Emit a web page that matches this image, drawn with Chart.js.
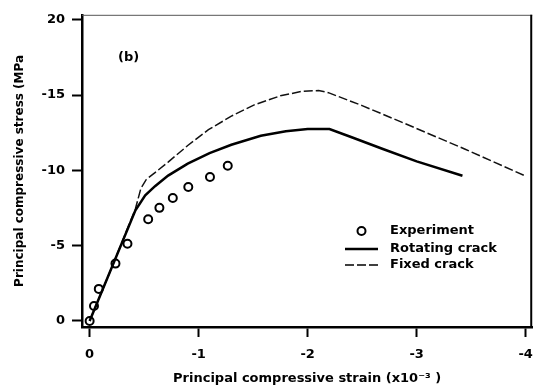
<!DOCTYPE html>
<html>
<head>
<meta charset="utf-8">
<script src="https://cdn.jsdelivr.net/npm/chart.js@4"></script>
<style>
  html, body { margin: 0; padding: 0; background: #fff; }
  #wrap { width: 543px; height: 388px; position: relative; }
</style>
</head>
<body>
<div id="wrap"><canvas id="stressChart"></canvas></div>
<script>
// data (strain x10^-3, stress MPa)
const expStrain = [0, -0.04, -0.084, -0.237, -0.347, -0.537, -0.64, -0.763, -0.905, -1.104, -1.267];
const expStress = [0, -1.0, -2.13, -3.81, -5.13, -6.76, -7.51, -8.16, -8.9, -9.56, -10.31];

const rotStrain = [0, -0.2, -0.42, -0.51, -0.6, -0.72, -0.9, -1.1, -1.3, -1.57, -1.8, -2.0, -2.2, -2.41, -2.69, -3.0, -3.42];
const rotStress = [0, -3.5, -7.35, -8.34, -8.95, -9.65, -10.45, -11.15, -11.7, -12.3, -12.6, -12.74, -12.74, -12.18, -11.42, -10.6, -9.64];

const fixStrain = [0, -0.2, -0.42, -0.47, -0.52, -0.6, -0.72, -0.9, -1.09, -1.3, -1.51, -1.75, -1.95, -2.1, -2.19, -2.5, -2.84, -3.44, -4.0];
const fixStress = [0, -3.5, -7.45, -8.8, -9.4, -9.85, -10.55, -11.65, -12.7, -13.6, -14.35, -14.95, -15.25, -15.3, -15.16, -14.3, -13.27, -11.42, -9.62];

const xTicks = [0, -1, -2, -3, -4];
const xTickLabels = ['0', '-1', '-2', '-3', '-4'];
const yTicks = [0, -5, -10, -15, -20];
const yTickLabels = ['0', '-5', '-10', '-15', '20'];

const seriesNames = ['Experiment', 'Rotating crack', 'Fixed crack'];

const toPts = (xs, ys) => xs.map((x, i) => ({ x: x, y: ys[i] }));

const FONT = '"DejaVu Sans", sans-serif';

// box round the plot: thin top line, heavy right line
const framePlugin = {
    id: 'frame',
    beforeDatasetsDraw(chart) {
        const { ctx, chartArea: a } = chart;
        ctx.save();
        ctx.strokeStyle = '#555';
        ctx.lineWidth = 1;
        ctx.beginPath();
        ctx.moveTo(a.left, a.top + 0.5);
        ctx.lineTo(a.right, a.top + 0.5);
        ctx.stroke();
        ctx.strokeStyle = '#000';
        ctx.lineWidth = 2;
        ctx.beginPath();
        ctx.moveTo(a.right - 1, a.top);
        ctx.lineTo(a.right - 1, a.bottom);
        ctx.stroke();
        ctx.restore();
    }
};

// legend inside the plot + "(b)" panel label
const insideLegend = {
    id: 'insideLegend',
    afterDraw(chart) {
        const ctx = chart.ctx;
        const x0 = 345, x1 = 378, tx = 390;
        const rows = [231, 249, 265];
        ctx.save();
        ctx.fillStyle = '#000';
        ctx.font = 'bold 13px ' + FONT;
        ctx.textBaseline = 'middle';
        ctx.fillText('(b)', 118, 58);

        chart.data.datasets.forEach((ds, i) => {
            const y = rows[i];
            ctx.strokeStyle = '#000';
            if (i === 0) {
                ctx.lineWidth = 2;
                ctx.beginPath();
                ctx.arc((x0 + x1) / 2, y, 4, 0, Math.PI * 2);
                ctx.stroke();
            } else {
                ctx.lineWidth = ds.borderWidth;
                ctx.setLineDash(ds.borderDash || []);
                ctx.beginPath();
                ctx.moveTo(x0, y);
                ctx.lineTo(x1, y);
                ctx.stroke();
                ctx.setLineDash([]);
            }
            ctx.fillText(ds.label, tx, y);
        });
        ctx.restore();
    }
};

new Chart(document.getElementById('stressChart'), {
    type: 'scatter',
    data: {
        datasets: [
            {
                label: seriesNames[0],
                data: toPts(expStrain, expStress),
                showLine: false,
                pointRadius: 4,
                pointBorderWidth: 2,
                pointBorderColor: '#000',
                pointBackgroundColor: 'rgba(0,0,0,0)'
            },
            {
                label: seriesNames[1],
                data: toPts(rotStrain, rotStress),
                showLine: true,
                borderColor: '#000',
                borderWidth: 2.5,
                pointRadius: 0,
                tension: 0
            },
            {
                label: seriesNames[2],
                data: toPts(fixStrain, fixStress),
                showLine: true,
                borderColor: '#111',
                borderWidth: 1.5,
                borderDash: [9, 3],
                pointRadius: 0,
                tension: 0
            }
        ]
    },
    options: {
        responsive: true,
        maintainAspectRatio: false,
        animation: false,
        layout: { padding: { top: 10, right: 4, left: 0, bottom: 0 } },
        plugins: {
            legend: { display: false },
            tooltip: { enabled: false }
        },
        scales: {
            x: {
                type: 'linear',
                reverse: true,
                min: -4.06,
                max: 0.07,
                afterBuildTicks: s => { s.ticks = xTicks.map(v => ({ value: v })); },
                afterFit: s => { s.height = 61; },
                border: { display: true, color: '#000', width: 2.5 },
                grid: { display: true, drawOnChartArea: false, drawTicks: true, tickLength: 10, tickWidth: 2, tickColor: '#000' },
                ticks: {
                    autoSkip: false, maxRotation: 0, padding: 10, color: '#000',
                    font: { family: FONT, size: 13, weight: 'bold' },
                    callback: (v, i) => xTickLabels[i]
                },
                title: {
                    display: true,
                    text: 'Principal compressive strain (x10\u207B\u00B3 )',
                    color: '#000',
                    font: { family: FONT, size: 13, weight: 'bold' },
                    padding: { top: 0, bottom: 2 }
                }
            },
            y: {
                type: 'linear',
                reverse: true,
                min: -20.33,
                max: 0.4,
                afterBuildTicks: s => { s.ticks = yTicks.map(v => ({ value: v })); },
                afterFit: s => { s.width = 82; },
                border: { display: true, color: '#000', width: 2.5 },
                grid: { display: true, drawOnChartArea: false, drawTicks: true, tickLength: 10, tickWidth: 2, tickColor: '#000' },
                ticks: {
                    autoSkip: false, padding: 7, color: '#000',
                    font: { family: FONT, size: 13, weight: 'bold' },
                    callback: (v, i) => yTickLabels[i]
                },
                title: {
                    display: true,
                    text: 'Principal compressive stress (MPa',
                    color: '#000',
                    font: { family: FONT, size: 12, weight: 'bold' },
                    padding: { top: 13, bottom: 0 }
                }
            }
        }
    },
    plugins: [framePlugin, insideLegend]
});
</script>
</body>
</html>
